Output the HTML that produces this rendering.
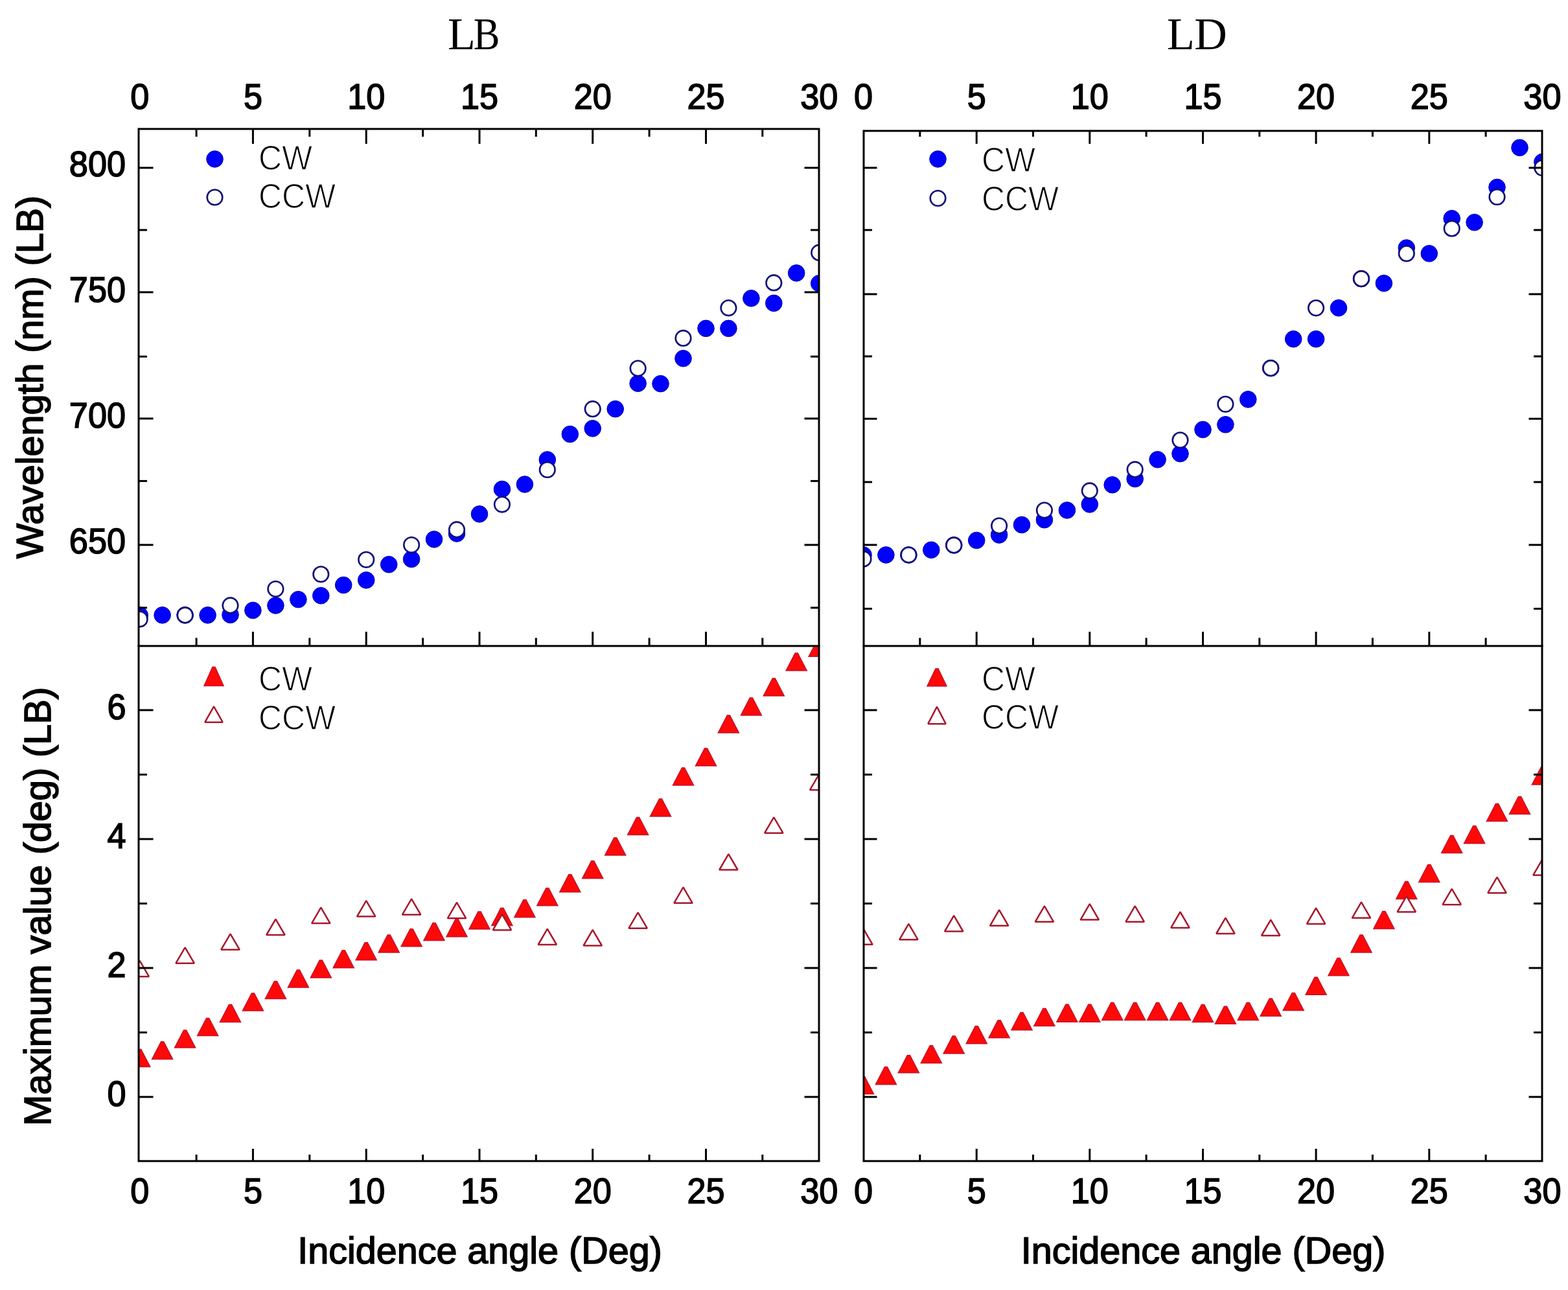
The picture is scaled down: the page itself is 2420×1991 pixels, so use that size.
<!DOCTYPE html><html><head><meta charset="utf-8"><title>LB LD plots</title>
<style>html,body{margin:0;padding:0;background:#fff;overflow:hidden;}svg{display:block;}.sb{font-family:"Liberation Sans",Arial,sans-serif;font-weight:bold;}.sr{font-family:"Liberation Sans",Arial,sans-serif;stroke:#fff;stroke-width:1.3px;}.se{font-family:"Liberation Serif","Times New Roman",serif;}.sk{font-family:"Liberation Sans",Arial,sans-serif;stroke:#000;stroke-width:1.6px;}</style></head><body>
<svg width="2420" height="1991" viewBox="0 0 2420 1991">
<rect width="2420" height="1991" fill="#fff"/>
<defs><clipPath id="cTL"><rect x="214" y="199" width="1050" height="798"/></clipPath><clipPath id="cTR"><rect x="1333" y="202" width="1047" height="795"/></clipPath><clipPath id="cBL"><rect x="214" y="997" width="1050" height="795"/></clipPath><clipPath id="cBR"><rect x="1333" y="997" width="1047" height="795"/></clipPath></defs>
<g clip-path="url(#cTL)">
<circle cx="215.7" cy="949.5" r="12.8" fill="#0000ff" stroke="#0000a8" stroke-width="1"/>
<circle cx="250.6" cy="949.4" r="12.8" fill="#0000ff" stroke="#0000a8" stroke-width="1"/>
<circle cx="285.6" cy="949.4" r="12.8" fill="#0000ff" stroke="#0000a8" stroke-width="1"/>
<circle cx="320.6" cy="949.4" r="12.8" fill="#0000ff" stroke="#0000a8" stroke-width="1"/>
<circle cx="355.5" cy="949" r="12.8" fill="#0000ff" stroke="#0000a8" stroke-width="1"/>
<circle cx="390.4" cy="942" r="12.8" fill="#0000ff" stroke="#0000a8" stroke-width="1"/>
<circle cx="425.4" cy="934.5" r="12.8" fill="#0000ff" stroke="#0000a8" stroke-width="1"/>
<circle cx="460.4" cy="925.2" r="12.8" fill="#0000ff" stroke="#0000a8" stroke-width="1"/>
<circle cx="495.3" cy="919.3" r="12.8" fill="#0000ff" stroke="#0000a8" stroke-width="1"/>
<circle cx="530.2" cy="903" r="12.8" fill="#0000ff" stroke="#0000a8" stroke-width="1"/>
<circle cx="565.2" cy="895.4" r="12.8" fill="#0000ff" stroke="#0000a8" stroke-width="1"/>
<circle cx="600.2" cy="871.2" r="12.8" fill="#0000ff" stroke="#0000a8" stroke-width="1"/>
<circle cx="635.1" cy="863" r="12.8" fill="#0000ff" stroke="#0000a8" stroke-width="1"/>
<circle cx="670" cy="832.4" r="12.8" fill="#0000ff" stroke="#0000a8" stroke-width="1"/>
<circle cx="705" cy="823.5" r="12.8" fill="#0000ff" stroke="#0000a8" stroke-width="1"/>
<circle cx="740" cy="793.4" r="12.8" fill="#0000ff" stroke="#0000a8" stroke-width="1"/>
<circle cx="774.9" cy="755" r="12.8" fill="#0000ff" stroke="#0000a8" stroke-width="1"/>
<circle cx="809.9" cy="747.5" r="12.8" fill="#0000ff" stroke="#0000a8" stroke-width="1"/>
<circle cx="844.8" cy="709.5" r="12.8" fill="#0000ff" stroke="#0000a8" stroke-width="1"/>
<circle cx="879.8" cy="670.1" r="12.8" fill="#0000ff" stroke="#0000a8" stroke-width="1"/>
<circle cx="914.7" cy="661.3" r="12.8" fill="#0000ff" stroke="#0000a8" stroke-width="1"/>
<circle cx="949.7" cy="631.2" r="12.8" fill="#0000ff" stroke="#0000a8" stroke-width="1"/>
<circle cx="984.6" cy="591.8" r="12.8" fill="#0000ff" stroke="#0000a8" stroke-width="1"/>
<circle cx="1019.5" cy="592.2" r="12.8" fill="#0000ff" stroke="#0000a8" stroke-width="1"/>
<circle cx="1054.5" cy="553.2" r="12.8" fill="#0000ff" stroke="#0000a8" stroke-width="1"/>
<circle cx="1089.5" cy="506.9" r="12.8" fill="#0000ff" stroke="#0000a8" stroke-width="1"/>
<circle cx="1124.4" cy="506.9" r="12.8" fill="#0000ff" stroke="#0000a8" stroke-width="1"/>
<circle cx="1159.4" cy="460.4" r="12.8" fill="#0000ff" stroke="#0000a8" stroke-width="1"/>
<circle cx="1194.3" cy="467.9" r="12.8" fill="#0000ff" stroke="#0000a8" stroke-width="1"/>
<circle cx="1229.2" cy="421.4" r="12.8" fill="#0000ff" stroke="#0000a8" stroke-width="1"/>
<circle cx="1264.2" cy="437.4" r="12.8" fill="#0000ff" stroke="#0000a8" stroke-width="1"/>
<circle cx="215.7" cy="955.5" r="11.8" fill="#fff" stroke="#10107a" stroke-width="2.6"/>
<circle cx="285.6" cy="949.4" r="11.8" fill="#fff" stroke="#10107a" stroke-width="2.6"/>
<circle cx="355.5" cy="934.4" r="11.8" fill="#fff" stroke="#10107a" stroke-width="2.6"/>
<circle cx="425.4" cy="909" r="11.8" fill="#fff" stroke="#10107a" stroke-width="2.6"/>
<circle cx="495.3" cy="886.3" r="11.8" fill="#fff" stroke="#10107a" stroke-width="2.6"/>
<circle cx="565.2" cy="863.8" r="11.8" fill="#fff" stroke="#10107a" stroke-width="2.6"/>
<circle cx="635.1" cy="841" r="11.8" fill="#fff" stroke="#10107a" stroke-width="2.6"/>
<circle cx="705" cy="817.4" r="11.8" fill="#fff" stroke="#10107a" stroke-width="2.6"/>
<circle cx="774.9" cy="778.6" r="11.8" fill="#fff" stroke="#10107a" stroke-width="2.6"/>
<circle cx="844.8" cy="725" r="11.8" fill="#fff" stroke="#10107a" stroke-width="2.6"/>
<circle cx="914.7" cy="631.2" r="11.8" fill="#fff" stroke="#10107a" stroke-width="2.6"/>
<circle cx="984.6" cy="568.6" r="11.8" fill="#fff" stroke="#10107a" stroke-width="2.6"/>
<circle cx="1054.5" cy="521.9" r="11.8" fill="#fff" stroke="#10107a" stroke-width="2.6"/>
<circle cx="1124.4" cy="475.3" r="11.8" fill="#fff" stroke="#10107a" stroke-width="2.6"/>
<circle cx="1194.3" cy="436.4" r="11.8" fill="#fff" stroke="#10107a" stroke-width="2.6"/>
<circle cx="1264.2" cy="389.9" r="11.8" fill="#fff" stroke="#10107a" stroke-width="2.6"/>
</g>
<g clip-path="url(#cTR)">
<circle cx="1332.5" cy="856.6" r="12.8" fill="#0000ff" stroke="#0000a8" stroke-width="1"/>
<circle cx="1367.4" cy="856.5" r="12.8" fill="#0000ff" stroke="#0000a8" stroke-width="1"/>
<circle cx="1402.4" cy="856.5" r="12.8" fill="#0000ff" stroke="#0000a8" stroke-width="1"/>
<circle cx="1437.3" cy="848.8" r="12.8" fill="#0000ff" stroke="#0000a8" stroke-width="1"/>
<circle cx="1472.2" cy="841.4" r="12.8" fill="#0000ff" stroke="#0000a8" stroke-width="1"/>
<circle cx="1507.2" cy="834" r="12.8" fill="#0000ff" stroke="#0000a8" stroke-width="1"/>
<circle cx="1542.1" cy="825.6" r="12.8" fill="#0000ff" stroke="#0000a8" stroke-width="1"/>
<circle cx="1577" cy="810" r="12.8" fill="#0000ff" stroke="#0000a8" stroke-width="1"/>
<circle cx="1611.9" cy="802.3" r="12.8" fill="#0000ff" stroke="#0000a8" stroke-width="1"/>
<circle cx="1646.9" cy="787.5" r="12.8" fill="#0000ff" stroke="#0000a8" stroke-width="1"/>
<circle cx="1681.8" cy="778.4" r="12.8" fill="#0000ff" stroke="#0000a8" stroke-width="1"/>
<circle cx="1716.7" cy="748.3" r="12.8" fill="#0000ff" stroke="#0000a8" stroke-width="1"/>
<circle cx="1751.7" cy="739.1" r="12.8" fill="#0000ff" stroke="#0000a8" stroke-width="1"/>
<circle cx="1786.6" cy="709.3" r="12.8" fill="#0000ff" stroke="#0000a8" stroke-width="1"/>
<circle cx="1821.5" cy="700.2" r="12.8" fill="#0000ff" stroke="#0000a8" stroke-width="1"/>
<circle cx="1856.5" cy="663" r="12.8" fill="#0000ff" stroke="#0000a8" stroke-width="1"/>
<circle cx="1891.4" cy="655.3" r="12.8" fill="#0000ff" stroke="#0000a8" stroke-width="1"/>
<circle cx="1926.3" cy="616.4" r="12.8" fill="#0000ff" stroke="#0000a8" stroke-width="1"/>
<circle cx="1961.2" cy="568.2" r="12.8" fill="#0000ff" stroke="#0000a8" stroke-width="1"/>
<circle cx="1996.2" cy="523.3" r="12.8" fill="#0000ff" stroke="#0000a8" stroke-width="1"/>
<circle cx="2031.1" cy="523.3" r="12.8" fill="#0000ff" stroke="#0000a8" stroke-width="1"/>
<circle cx="2066" cy="475.3" r="12.8" fill="#0000ff" stroke="#0000a8" stroke-width="1"/>
<circle cx="2101" cy="430.2" r="12.8" fill="#0000ff" stroke="#0000a8" stroke-width="1"/>
<circle cx="2135.9" cy="437.2" r="12.8" fill="#0000ff" stroke="#0000a8" stroke-width="1"/>
<circle cx="2170.8" cy="382.6" r="12.8" fill="#0000ff" stroke="#0000a8" stroke-width="1"/>
<circle cx="2205.8" cy="391.3" r="12.8" fill="#0000ff" stroke="#0000a8" stroke-width="1"/>
<circle cx="2240.7" cy="337.2" r="12.8" fill="#0000ff" stroke="#0000a8" stroke-width="1"/>
<circle cx="2275.6" cy="343.2" r="12.8" fill="#0000ff" stroke="#0000a8" stroke-width="1"/>
<circle cx="2310.5" cy="289" r="12.8" fill="#0000ff" stroke="#0000a8" stroke-width="1"/>
<circle cx="2345.5" cy="227.9" r="12.8" fill="#0000ff" stroke="#0000a8" stroke-width="1"/>
<circle cx="2380.4" cy="250" r="12.8" fill="#0000ff" stroke="#0000a8" stroke-width="1"/>
<circle cx="1332.5" cy="862.7" r="11.8" fill="#fff" stroke="#10107a" stroke-width="2.6"/>
<circle cx="1402.4" cy="856.5" r="11.8" fill="#fff" stroke="#10107a" stroke-width="2.6"/>
<circle cx="1472.2" cy="841.4" r="11.8" fill="#fff" stroke="#10107a" stroke-width="2.6"/>
<circle cx="1542.1" cy="811.5" r="11.8" fill="#fff" stroke="#10107a" stroke-width="2.6"/>
<circle cx="1611.9" cy="787.6" r="11.8" fill="#fff" stroke="#10107a" stroke-width="2.6"/>
<circle cx="1681.8" cy="757.4" r="11.8" fill="#fff" stroke="#10107a" stroke-width="2.6"/>
<circle cx="1751.7" cy="724.7" r="11.8" fill="#fff" stroke="#10107a" stroke-width="2.6"/>
<circle cx="1821.5" cy="679.3" r="11.8" fill="#fff" stroke="#10107a" stroke-width="2.6"/>
<circle cx="1891.4" cy="623.8" r="11.8" fill="#fff" stroke="#10107a" stroke-width="2.6"/>
<circle cx="1961.2" cy="568.2" r="11.8" fill="#fff" stroke="#10107a" stroke-width="2.6"/>
<circle cx="2031.1" cy="475.3" r="11.8" fill="#fff" stroke="#10107a" stroke-width="2.6"/>
<circle cx="2101" cy="430.2" r="11.8" fill="#fff" stroke="#10107a" stroke-width="2.6"/>
<circle cx="2170.8" cy="391.3" r="11.8" fill="#fff" stroke="#10107a" stroke-width="2.6"/>
<circle cx="2240.7" cy="352.7" r="11.8" fill="#fff" stroke="#10107a" stroke-width="2.6"/>
<circle cx="2310.5" cy="304" r="11.8" fill="#fff" stroke="#10107a" stroke-width="2.6"/>
<circle cx="2380.4" cy="259" r="11.8" fill="#fff" stroke="#10107a" stroke-width="2.6"/>
</g>
<g clip-path="url(#cBL)">
<polygon points="213.7,1619.5 217.7,1619.5 231.7,1646.5 199.7,1646.5" fill="#ff0808" stroke="#c81028" stroke-width="1.5"/>
<polygon points="248.6,1607.8 252.6,1607.8 266.6,1634.8 234.6,1634.8" fill="#ff0808" stroke="#c81028" stroke-width="1.5"/>
<polygon points="283.6,1590 287.6,1590 301.6,1617 269.6,1617" fill="#ff0808" stroke="#c81028" stroke-width="1.5"/>
<polygon points="318.6,1571.5 322.6,1571.5 336.6,1598.5 304.6,1598.5" fill="#ff0808" stroke="#c81028" stroke-width="1.5"/>
<polygon points="353.5,1550.5 357.5,1550.5 371.5,1577.5 339.5,1577.5" fill="#ff0808" stroke="#c81028" stroke-width="1.5"/>
<polygon points="388.4,1533 392.4,1533 406.4,1560 374.4,1560" fill="#ff0808" stroke="#c81028" stroke-width="1.5"/>
<polygon points="423.4,1514.5 427.4,1514.5 441.4,1541.5 409.4,1541.5" fill="#ff0808" stroke="#c81028" stroke-width="1.5"/>
<polygon points="458.4,1496.9 462.4,1496.9 476.4,1523.9 444.4,1523.9" fill="#ff0808" stroke="#c81028" stroke-width="1.5"/>
<polygon points="493.3,1481.9 497.3,1481.9 511.3,1508.9 479.3,1508.9" fill="#ff0808" stroke="#c81028" stroke-width="1.5"/>
<polygon points="528.2,1466.8 532.2,1466.8 546.2,1493.8 514.2,1493.8" fill="#ff0808" stroke="#c81028" stroke-width="1.5"/>
<polygon points="563.2,1454.8 567.2,1454.8 581.2,1481.8 549.2,1481.8" fill="#ff0808" stroke="#c81028" stroke-width="1.5"/>
<polygon points="598.2,1442.9 602.2,1442.9 616.2,1469.9 584.2,1469.9" fill="#ff0808" stroke="#c81028" stroke-width="1.5"/>
<polygon points="633.1,1433.8 637.1,1433.8 651.1,1460.8 619.1,1460.8" fill="#ff0808" stroke="#c81028" stroke-width="1.5"/>
<polygon points="668,1424.6 672,1424.6 686,1451.6 654,1451.6" fill="#ff0808" stroke="#c81028" stroke-width="1.5"/>
<polygon points="703,1418.8 707,1418.8 721,1445.8 689,1445.8" fill="#ff0808" stroke="#c81028" stroke-width="1.5"/>
<polygon points="738,1407 742,1407 756,1434 724,1434" fill="#ff0808" stroke="#c81028" stroke-width="1.5"/>
<polygon points="772.9,1401.5 776.9,1401.5 790.9,1428.5 758.9,1428.5" fill="#ff0808" stroke="#c81028" stroke-width="1.5"/>
<polygon points="807.9,1388.8 811.9,1388.8 825.9,1415.8 793.9,1415.8" fill="#ff0808" stroke="#c81028" stroke-width="1.5"/>
<polygon points="842.8,1370.7 846.8,1370.7 860.8,1397.7 828.8,1397.7" fill="#ff0808" stroke="#c81028" stroke-width="1.5"/>
<polygon points="877.8,1349.8 881.8,1349.8 895.8,1376.8 863.8,1376.8" fill="#ff0808" stroke="#c81028" stroke-width="1.5"/>
<polygon points="912.7,1328.8 916.7,1328.8 930.7,1355.8 898.7,1355.8" fill="#ff0808" stroke="#c81028" stroke-width="1.5"/>
<polygon points="947.7,1293 951.7,1293 965.7,1320 933.7,1320" fill="#ff0808" stroke="#c81028" stroke-width="1.5"/>
<polygon points="982.6,1261.5 986.6,1261.5 1000.6,1288.5 968.6,1288.5" fill="#ff0808" stroke="#c81028" stroke-width="1.5"/>
<polygon points="1017.5,1232.9 1021.5,1232.9 1035.5,1259.9 1003.5,1259.9" fill="#ff0808" stroke="#c81028" stroke-width="1.5"/>
<polygon points="1052.5,1184.9 1056.5,1184.9 1070.5,1211.9 1038.5,1211.9" fill="#ff0808" stroke="#c81028" stroke-width="1.5"/>
<polygon points="1087.5,1155.1 1091.5,1155.1 1105.5,1182.1 1073.5,1182.1" fill="#ff0808" stroke="#c81028" stroke-width="1.5"/>
<polygon points="1122.4,1104.1 1126.4,1104.1 1140.4,1131.1 1108.4,1131.1" fill="#ff0808" stroke="#c81028" stroke-width="1.5"/>
<polygon points="1157.4,1077 1161.4,1077 1175.4,1104 1143.4,1104" fill="#ff0808" stroke="#c81028" stroke-width="1.5"/>
<polygon points="1192.3,1047 1196.3,1047 1210.3,1074 1178.3,1074" fill="#ff0808" stroke="#c81028" stroke-width="1.5"/>
<polygon points="1227.2,1008 1231.2,1008 1245.2,1035 1213.2,1035" fill="#ff0808" stroke="#c81028" stroke-width="1.5"/>
<polygon points="1262.2,986.2 1266.2,986.2 1280.2,1013.2 1248.2,1013.2" fill="#ff0808" stroke="#c81028" stroke-width="1.5"/>
<polygon points="215.7,1482.8 229.9,1507.2 201.5,1507.2" fill="#fff" stroke="#a8182c" stroke-width="2.5" stroke-linejoin="bevel"/>
<polygon points="285.6,1462.3 299.8,1486.7 271.4,1486.7" fill="#fff" stroke="#a8182c" stroke-width="2.5" stroke-linejoin="bevel"/>
<polygon points="355.5,1441.3 369.7,1465.7 341.3,1465.7" fill="#fff" stroke="#a8182c" stroke-width="2.5" stroke-linejoin="bevel"/>
<polygon points="425.4,1418.6 439.6,1443 411.2,1443" fill="#fff" stroke="#a8182c" stroke-width="2.5" stroke-linejoin="bevel"/>
<polygon points="495.3,1400.7 509.5,1425.1 481.1,1425.1" fill="#fff" stroke="#a8182c" stroke-width="2.5" stroke-linejoin="bevel"/>
<polygon points="565.2,1390.2 579.4,1414.6 551,1414.6" fill="#fff" stroke="#a8182c" stroke-width="2.5" stroke-linejoin="bevel"/>
<polygon points="635.1,1387.3 649.3,1411.7 620.9,1411.7" fill="#fff" stroke="#a8182c" stroke-width="2.5" stroke-linejoin="bevel"/>
<polygon points="705,1392.9 719.2,1417.3 690.8,1417.3" fill="#fff" stroke="#a8182c" stroke-width="2.5" stroke-linejoin="bevel"/>
<polygon points="774.9,1411 789.1,1435.4 760.7,1435.4" fill="#fff" stroke="#a8182c" stroke-width="2.5" stroke-linejoin="bevel"/>
<polygon points="844.8,1433.6 859,1458 830.6,1458" fill="#fff" stroke="#a8182c" stroke-width="2.5" stroke-linejoin="bevel"/>
<polygon points="914.7,1435.1 928.9,1459.5 900.5,1459.5" fill="#fff" stroke="#a8182c" stroke-width="2.5" stroke-linejoin="bevel"/>
<polygon points="984.6,1408.3 998.8,1432.7 970.4,1432.7" fill="#fff" stroke="#a8182c" stroke-width="2.5" stroke-linejoin="bevel"/>
<polygon points="1054.5,1369.4 1068.7,1393.8 1040.3,1393.8" fill="#fff" stroke="#a8182c" stroke-width="2.5" stroke-linejoin="bevel"/>
<polygon points="1124.4,1318.1 1138.6,1342.5 1110.2,1342.5" fill="#fff" stroke="#a8182c" stroke-width="2.5" stroke-linejoin="bevel"/>
<polygon points="1194.3,1261.3 1208.5,1285.7 1180.1,1285.7" fill="#fff" stroke="#a8182c" stroke-width="2.5" stroke-linejoin="bevel"/>
<polygon points="1264.2,1194.8 1278.4,1219.2 1250,1219.2" fill="#fff" stroke="#a8182c" stroke-width="2.5" stroke-linejoin="bevel"/>
</g>
<g clip-path="url(#cBR)">
<polygon points="1330.5,1661.5 1334.5,1661.5 1348.5,1688.5 1316.5,1688.5" fill="#ff0808" stroke="#c81028" stroke-width="1.5"/>
<polygon points="1365.4,1646.7 1369.4,1646.7 1383.4,1673.7 1351.4,1673.7" fill="#ff0808" stroke="#c81028" stroke-width="1.5"/>
<polygon points="1400.4,1628.8 1404.4,1628.8 1418.4,1655.8 1386.4,1655.8" fill="#ff0808" stroke="#c81028" stroke-width="1.5"/>
<polygon points="1435.3,1613.7 1439.3,1613.7 1453.3,1640.7 1421.3,1640.7" fill="#ff0808" stroke="#c81028" stroke-width="1.5"/>
<polygon points="1470.2,1598.9 1474.2,1598.9 1488.2,1625.9 1456.2,1625.9" fill="#ff0808" stroke="#c81028" stroke-width="1.5"/>
<polygon points="1505.2,1583.8 1509.2,1583.8 1523.2,1610.8 1491.2,1610.8" fill="#ff0808" stroke="#c81028" stroke-width="1.5"/>
<polygon points="1540.1,1574.8 1544.1,1574.8 1558.1,1601.8 1526.1,1601.8" fill="#ff0808" stroke="#c81028" stroke-width="1.5"/>
<polygon points="1575,1562.7 1579,1562.7 1593,1589.7 1561,1589.7" fill="#ff0808" stroke="#c81028" stroke-width="1.5"/>
<polygon points="1609.9,1556.5 1613.9,1556.5 1627.9,1583.5 1595.9,1583.5" fill="#ff0808" stroke="#c81028" stroke-width="1.5"/>
<polygon points="1644.9,1550.2 1648.9,1550.2 1662.9,1577.2 1630.9,1577.2" fill="#ff0808" stroke="#c81028" stroke-width="1.5"/>
<polygon points="1679.8,1550.2 1683.8,1550.2 1697.8,1577.2 1665.8,1577.2" fill="#ff0808" stroke="#c81028" stroke-width="1.5"/>
<polygon points="1714.7,1547.4 1718.7,1547.4 1732.7,1574.4 1700.7,1574.4" fill="#ff0808" stroke="#c81028" stroke-width="1.5"/>
<polygon points="1749.7,1547.4 1753.7,1547.4 1767.7,1574.4 1735.7,1574.4" fill="#ff0808" stroke="#c81028" stroke-width="1.5"/>
<polygon points="1784.6,1547.6 1788.6,1547.6 1802.6,1574.6 1770.6,1574.6" fill="#ff0808" stroke="#c81028" stroke-width="1.5"/>
<polygon points="1819.5,1547.6 1823.5,1547.6 1837.5,1574.6 1805.5,1574.6" fill="#ff0808" stroke="#c81028" stroke-width="1.5"/>
<polygon points="1854.5,1550.4 1858.5,1550.4 1872.5,1577.4 1840.5,1577.4" fill="#ff0808" stroke="#c81028" stroke-width="1.5"/>
<polygon points="1889.4,1553.3 1893.4,1553.3 1907.4,1580.3 1875.4,1580.3" fill="#ff0808" stroke="#c81028" stroke-width="1.5"/>
<polygon points="1924.3,1547.6 1928.3,1547.6 1942.3,1574.6 1910.3,1574.6" fill="#ff0808" stroke="#c81028" stroke-width="1.5"/>
<polygon points="1959.2,1541.3 1963.2,1541.3 1977.2,1568.3 1945.2,1568.3" fill="#ff0808" stroke="#c81028" stroke-width="1.5"/>
<polygon points="1994.2,1532.5 1998.2,1532.5 2012.2,1559.5 1980.2,1559.5" fill="#ff0808" stroke="#c81028" stroke-width="1.5"/>
<polygon points="2029.1,1508.3 2033.1,1508.3 2047.1,1535.3 2015.1,1535.3" fill="#ff0808" stroke="#c81028" stroke-width="1.5"/>
<polygon points="2064,1478.7 2068,1478.7 2082,1505.7 2050,1505.7" fill="#ff0808" stroke="#c81028" stroke-width="1.5"/>
<polygon points="2099,1442.9 2103,1442.9 2117,1469.9 2085,1469.9" fill="#ff0808" stroke="#c81028" stroke-width="1.5"/>
<polygon points="2133.9,1406.5 2137.9,1406.5 2151.9,1433.5 2119.9,1433.5" fill="#ff0808" stroke="#c81028" stroke-width="1.5"/>
<polygon points="2168.8,1360.4 2172.8,1360.4 2186.8,1387.4 2154.8,1387.4" fill="#ff0808" stroke="#c81028" stroke-width="1.5"/>
<polygon points="2203.8,1334.4 2207.8,1334.4 2221.8,1361.4 2189.8,1361.4" fill="#ff0808" stroke="#c81028" stroke-width="1.5"/>
<polygon points="2238.7,1289.6 2242.7,1289.6 2256.7,1316.6 2224.7,1316.6" fill="#ff0808" stroke="#c81028" stroke-width="1.5"/>
<polygon points="2273.6,1274.8 2277.6,1274.8 2291.6,1301.8 2259.6,1301.8" fill="#ff0808" stroke="#c81028" stroke-width="1.5"/>
<polygon points="2308.5,1240.5 2312.5,1240.5 2326.5,1267.5 2294.5,1267.5" fill="#ff0808" stroke="#c81028" stroke-width="1.5"/>
<polygon points="2343.5,1229.5 2347.5,1229.5 2361.5,1256.5 2329.5,1256.5" fill="#ff0808" stroke="#c81028" stroke-width="1.5"/>
<polygon points="2378.4,1184.1 2382.4,1184.1 2396.4,1211.1 2364.4,1211.1" fill="#ff0808" stroke="#c81028" stroke-width="1.5"/>
<polygon points="1332.5,1433.4 1346.7,1457.8 1318.3,1457.8" fill="#fff" stroke="#a8182c" stroke-width="2.5" stroke-linejoin="bevel"/>
<polygon points="1402.4,1425.8 1416.6,1450.2 1388.2,1450.2" fill="#fff" stroke="#a8182c" stroke-width="2.5" stroke-linejoin="bevel"/>
<polygon points="1472.2,1413.1 1486.4,1437.5 1458,1437.5" fill="#fff" stroke="#a8182c" stroke-width="2.5" stroke-linejoin="bevel"/>
<polygon points="1542.1,1404.4 1556.3,1428.8 1527.9,1428.8" fill="#fff" stroke="#a8182c" stroke-width="2.5" stroke-linejoin="bevel"/>
<polygon points="1611.9,1398.4 1626.1,1422.8 1597.7,1422.8" fill="#fff" stroke="#a8182c" stroke-width="2.5" stroke-linejoin="bevel"/>
<polygon points="1681.8,1395.2 1696,1419.6 1667.6,1419.6" fill="#fff" stroke="#a8182c" stroke-width="2.5" stroke-linejoin="bevel"/>
<polygon points="1751.7,1398.3 1765.9,1422.7 1737.5,1422.7" fill="#fff" stroke="#a8182c" stroke-width="2.5" stroke-linejoin="bevel"/>
<polygon points="1821.5,1407.5 1835.7,1431.9 1807.3,1431.9" fill="#fff" stroke="#a8182c" stroke-width="2.5" stroke-linejoin="bevel"/>
<polygon points="1891.4,1416.6 1905.6,1441 1877.2,1441" fill="#fff" stroke="#a8182c" stroke-width="2.5" stroke-linejoin="bevel"/>
<polygon points="1961.2,1419.6 1975.4,1444 1947,1444" fill="#fff" stroke="#a8182c" stroke-width="2.5" stroke-linejoin="bevel"/>
<polygon points="2031.1,1401.5 2045.3,1425.9 2016.9,1425.9" fill="#fff" stroke="#a8182c" stroke-width="2.5" stroke-linejoin="bevel"/>
<polygon points="2101,1392.4 2115.2,1416.8 2086.8,1416.8" fill="#fff" stroke="#a8182c" stroke-width="2.5" stroke-linejoin="bevel"/>
<polygon points="2170.8,1383.1 2185,1407.5 2156.6,1407.5" fill="#fff" stroke="#a8182c" stroke-width="2.5" stroke-linejoin="bevel"/>
<polygon points="2240.7,1371.8 2254.9,1396.2 2226.5,1396.2" fill="#fff" stroke="#a8182c" stroke-width="2.5" stroke-linejoin="bevel"/>
<polygon points="2310.5,1353.8 2324.7,1378.2 2296.3,1378.2" fill="#fff" stroke="#a8182c" stroke-width="2.5" stroke-linejoin="bevel"/>
<polygon points="2380.4,1326.4 2394.6,1350.8 2366.2,1350.8" fill="#fff" stroke="#a8182c" stroke-width="2.5" stroke-linejoin="bevel"/>
</g>
<circle cx="331.5" cy="245.5" r="12.8" fill="#0000ff" stroke="#0000a8" stroke-width="1"/>
<circle cx="331.5" cy="304.5" r="11.8" fill="#fff" stroke="#10107a" stroke-width="2.6"/>
<circle cx="1447.5" cy="245.5" r="12.8" fill="#0000ff" stroke="#0000a8" stroke-width="1"/>
<circle cx="1447.5" cy="306" r="11.8" fill="#fff" stroke="#10107a" stroke-width="2.6"/>
<polygon points="328,1029.5 332,1029.5 345,1058.5 315,1058.5" fill="#ff0808" stroke="#c81028" stroke-width="1.5"/>
<polygon points="330,1090.3 343.7,1114.7 316.3,1114.7" fill="#fff" stroke="#a8182c" stroke-width="2.5" stroke-linejoin="bevel"/>
<polygon points="1444,1032 1448,1032 1461,1059 1431,1059" fill="#ff0808" stroke="#c81028" stroke-width="1.5"/>
<polygon points="1446,1090.8 1459.7,1117.2 1432.3,1117.2" fill="#fff" stroke="#a8182c" stroke-width="2.5" stroke-linejoin="bevel"/>
<rect x="214" y="199" width="1050" height="1593" fill="none" stroke="#000" stroke-width="3"/>
<line x1="212.5" y1="997" x2="1265.5" y2="997" stroke="#000" stroke-width="3"/>
<line x1="303.1" y1="199" x2="303.1" y2="211" stroke="#000" stroke-width="3"/>
<line x1="303.1" y1="997" x2="303.1" y2="984.5" stroke="#000" stroke-width="3"/>
<line x1="303.1" y1="1792" x2="303.1" y2="1782" stroke="#000" stroke-width="3"/>
<line x1="390.4" y1="199" x2="390.4" y2="222" stroke="#000" stroke-width="3"/>
<line x1="390.4" y1="997" x2="390.4" y2="975" stroke="#000" stroke-width="3"/>
<line x1="390.4" y1="1792" x2="390.4" y2="1773" stroke="#000" stroke-width="3"/>
<line x1="477.8" y1="199" x2="477.8" y2="211" stroke="#000" stroke-width="3"/>
<line x1="477.8" y1="997" x2="477.8" y2="984.5" stroke="#000" stroke-width="3"/>
<line x1="477.8" y1="1792" x2="477.8" y2="1782" stroke="#000" stroke-width="3"/>
<line x1="565.2" y1="199" x2="565.2" y2="222" stroke="#000" stroke-width="3"/>
<line x1="565.2" y1="997" x2="565.2" y2="975" stroke="#000" stroke-width="3"/>
<line x1="565.2" y1="1792" x2="565.2" y2="1773" stroke="#000" stroke-width="3"/>
<line x1="652.6" y1="199" x2="652.6" y2="211" stroke="#000" stroke-width="3"/>
<line x1="652.6" y1="997" x2="652.6" y2="984.5" stroke="#000" stroke-width="3"/>
<line x1="652.6" y1="1792" x2="652.6" y2="1782" stroke="#000" stroke-width="3"/>
<line x1="740" y1="199" x2="740" y2="222" stroke="#000" stroke-width="3"/>
<line x1="740" y1="997" x2="740" y2="975" stroke="#000" stroke-width="3"/>
<line x1="740" y1="1792" x2="740" y2="1773" stroke="#000" stroke-width="3"/>
<line x1="827.3" y1="199" x2="827.3" y2="211" stroke="#000" stroke-width="3"/>
<line x1="827.3" y1="997" x2="827.3" y2="984.5" stroke="#000" stroke-width="3"/>
<line x1="827.3" y1="1792" x2="827.3" y2="1782" stroke="#000" stroke-width="3"/>
<line x1="914.7" y1="199" x2="914.7" y2="222" stroke="#000" stroke-width="3"/>
<line x1="914.7" y1="997" x2="914.7" y2="975" stroke="#000" stroke-width="3"/>
<line x1="914.7" y1="1792" x2="914.7" y2="1773" stroke="#000" stroke-width="3"/>
<line x1="1002.1" y1="199" x2="1002.1" y2="211" stroke="#000" stroke-width="3"/>
<line x1="1002.1" y1="997" x2="1002.1" y2="984.5" stroke="#000" stroke-width="3"/>
<line x1="1002.1" y1="1792" x2="1002.1" y2="1782" stroke="#000" stroke-width="3"/>
<line x1="1089.5" y1="199" x2="1089.5" y2="222" stroke="#000" stroke-width="3"/>
<line x1="1089.5" y1="997" x2="1089.5" y2="975" stroke="#000" stroke-width="3"/>
<line x1="1089.5" y1="1792" x2="1089.5" y2="1773" stroke="#000" stroke-width="3"/>
<line x1="1176.8" y1="199" x2="1176.8" y2="211" stroke="#000" stroke-width="3"/>
<line x1="1176.8" y1="997" x2="1176.8" y2="984.5" stroke="#000" stroke-width="3"/>
<line x1="1176.8" y1="1792" x2="1176.8" y2="1782" stroke="#000" stroke-width="3"/>
<line x1="214" y1="259" x2="236.5" y2="259" stroke="#000" stroke-width="3"/>
<line x1="1264" y1="259" x2="1241.5" y2="259" stroke="#000" stroke-width="3"/>
<line x1="214" y1="355" x2="227" y2="355" stroke="#000" stroke-width="3"/>
<line x1="1264" y1="355" x2="1251" y2="355" stroke="#000" stroke-width="3"/>
<line x1="214" y1="451" x2="236.5" y2="451" stroke="#000" stroke-width="3"/>
<line x1="1264" y1="451" x2="1241.5" y2="451" stroke="#000" stroke-width="3"/>
<line x1="214" y1="550.3" x2="227" y2="550.3" stroke="#000" stroke-width="3"/>
<line x1="1264" y1="550.3" x2="1251" y2="550.3" stroke="#000" stroke-width="3"/>
<line x1="214" y1="646" x2="236.5" y2="646" stroke="#000" stroke-width="3"/>
<line x1="1264" y1="646" x2="1241.5" y2="646" stroke="#000" stroke-width="3"/>
<line x1="214" y1="742.4" x2="227" y2="742.4" stroke="#000" stroke-width="3"/>
<line x1="1264" y1="742.4" x2="1251" y2="742.4" stroke="#000" stroke-width="3"/>
<line x1="214" y1="841" x2="236.5" y2="841" stroke="#000" stroke-width="3"/>
<line x1="1264" y1="841" x2="1241.5" y2="841" stroke="#000" stroke-width="3"/>
<line x1="214" y1="938" x2="227" y2="938" stroke="#000" stroke-width="3"/>
<line x1="1264" y1="938" x2="1251" y2="938" stroke="#000" stroke-width="3"/>
<line x1="214" y1="1693" x2="236.5" y2="1693" stroke="#000" stroke-width="3"/>
<line x1="1264" y1="1693" x2="1241.5" y2="1693" stroke="#000" stroke-width="3"/>
<line x1="214" y1="1593.5" x2="227" y2="1593.5" stroke="#000" stroke-width="3"/>
<line x1="1264" y1="1593.5" x2="1251" y2="1593.5" stroke="#000" stroke-width="3"/>
<line x1="214" y1="1494" x2="236.5" y2="1494" stroke="#000" stroke-width="3"/>
<line x1="1264" y1="1494" x2="1241.5" y2="1494" stroke="#000" stroke-width="3"/>
<line x1="214" y1="1394.5" x2="227" y2="1394.5" stroke="#000" stroke-width="3"/>
<line x1="1264" y1="1394.5" x2="1251" y2="1394.5" stroke="#000" stroke-width="3"/>
<line x1="214" y1="1295" x2="236.5" y2="1295" stroke="#000" stroke-width="3"/>
<line x1="1264" y1="1295" x2="1241.5" y2="1295" stroke="#000" stroke-width="3"/>
<line x1="214" y1="1195.5" x2="227" y2="1195.5" stroke="#000" stroke-width="3"/>
<line x1="1264" y1="1195.5" x2="1251" y2="1195.5" stroke="#000" stroke-width="3"/>
<line x1="214" y1="1096" x2="236.5" y2="1096" stroke="#000" stroke-width="3"/>
<line x1="1264" y1="1096" x2="1241.5" y2="1096" stroke="#000" stroke-width="3"/>
<rect x="1333" y="202" width="1047" height="1590" fill="none" stroke="#000" stroke-width="3"/>
<line x1="1331.5" y1="997" x2="2381.5" y2="997" stroke="#000" stroke-width="3"/>
<line x1="1419.8" y1="202" x2="1419.8" y2="211" stroke="#000" stroke-width="3"/>
<line x1="1419.8" y1="997" x2="1419.8" y2="984.5" stroke="#000" stroke-width="3"/>
<line x1="1419.8" y1="1792" x2="1419.8" y2="1782" stroke="#000" stroke-width="3"/>
<line x1="1507.2" y1="202" x2="1507.2" y2="222" stroke="#000" stroke-width="3"/>
<line x1="1507.2" y1="997" x2="1507.2" y2="975" stroke="#000" stroke-width="3"/>
<line x1="1507.2" y1="1792" x2="1507.2" y2="1773" stroke="#000" stroke-width="3"/>
<line x1="1594.5" y1="202" x2="1594.5" y2="211" stroke="#000" stroke-width="3"/>
<line x1="1594.5" y1="997" x2="1594.5" y2="984.5" stroke="#000" stroke-width="3"/>
<line x1="1594.5" y1="1792" x2="1594.5" y2="1782" stroke="#000" stroke-width="3"/>
<line x1="1681.8" y1="202" x2="1681.8" y2="222" stroke="#000" stroke-width="3"/>
<line x1="1681.8" y1="997" x2="1681.8" y2="975" stroke="#000" stroke-width="3"/>
<line x1="1681.8" y1="1792" x2="1681.8" y2="1773" stroke="#000" stroke-width="3"/>
<line x1="1769.1" y1="202" x2="1769.1" y2="211" stroke="#000" stroke-width="3"/>
<line x1="1769.1" y1="997" x2="1769.1" y2="984.5" stroke="#000" stroke-width="3"/>
<line x1="1769.1" y1="1792" x2="1769.1" y2="1782" stroke="#000" stroke-width="3"/>
<line x1="1856.5" y1="202" x2="1856.5" y2="222" stroke="#000" stroke-width="3"/>
<line x1="1856.5" y1="997" x2="1856.5" y2="975" stroke="#000" stroke-width="3"/>
<line x1="1856.5" y1="1792" x2="1856.5" y2="1773" stroke="#000" stroke-width="3"/>
<line x1="1943.8" y1="202" x2="1943.8" y2="211" stroke="#000" stroke-width="3"/>
<line x1="1943.8" y1="997" x2="1943.8" y2="984.5" stroke="#000" stroke-width="3"/>
<line x1="1943.8" y1="1792" x2="1943.8" y2="1782" stroke="#000" stroke-width="3"/>
<line x1="2031.1" y1="202" x2="2031.1" y2="222" stroke="#000" stroke-width="3"/>
<line x1="2031.1" y1="997" x2="2031.1" y2="975" stroke="#000" stroke-width="3"/>
<line x1="2031.1" y1="1792" x2="2031.1" y2="1773" stroke="#000" stroke-width="3"/>
<line x1="2118.4" y1="202" x2="2118.4" y2="211" stroke="#000" stroke-width="3"/>
<line x1="2118.4" y1="997" x2="2118.4" y2="984.5" stroke="#000" stroke-width="3"/>
<line x1="2118.4" y1="1792" x2="2118.4" y2="1782" stroke="#000" stroke-width="3"/>
<line x1="2205.8" y1="202" x2="2205.8" y2="222" stroke="#000" stroke-width="3"/>
<line x1="2205.8" y1="997" x2="2205.8" y2="975" stroke="#000" stroke-width="3"/>
<line x1="2205.8" y1="1792" x2="2205.8" y2="1773" stroke="#000" stroke-width="3"/>
<line x1="2293.1" y1="202" x2="2293.1" y2="211" stroke="#000" stroke-width="3"/>
<line x1="2293.1" y1="997" x2="2293.1" y2="984.5" stroke="#000" stroke-width="3"/>
<line x1="2293.1" y1="1792" x2="2293.1" y2="1782" stroke="#000" stroke-width="3"/>
<line x1="1333" y1="259" x2="1353.5" y2="259" stroke="#000" stroke-width="3"/>
<line x1="2380" y1="259" x2="2359.5" y2="259" stroke="#000" stroke-width="3"/>
<line x1="1333" y1="355" x2="1346" y2="355" stroke="#000" stroke-width="3"/>
<line x1="2380" y1="355" x2="2367" y2="355" stroke="#000" stroke-width="3"/>
<line x1="1333" y1="454" x2="1353.5" y2="454" stroke="#000" stroke-width="3"/>
<line x1="2380" y1="454" x2="2359.5" y2="454" stroke="#000" stroke-width="3"/>
<line x1="1333" y1="550" x2="1346" y2="550" stroke="#000" stroke-width="3"/>
<line x1="2380" y1="550" x2="2367" y2="550" stroke="#000" stroke-width="3"/>
<line x1="1333" y1="646.3" x2="1353.5" y2="646.3" stroke="#000" stroke-width="3"/>
<line x1="2380" y1="646.3" x2="2359.5" y2="646.3" stroke="#000" stroke-width="3"/>
<line x1="1333" y1="744" x2="1346" y2="744" stroke="#000" stroke-width="3"/>
<line x1="2380" y1="744" x2="2367" y2="744" stroke="#000" stroke-width="3"/>
<line x1="1333" y1="841" x2="1353.5" y2="841" stroke="#000" stroke-width="3"/>
<line x1="2380" y1="841" x2="2359.5" y2="841" stroke="#000" stroke-width="3"/>
<line x1="1333" y1="939.5" x2="1346" y2="939.5" stroke="#000" stroke-width="3"/>
<line x1="2380" y1="939.5" x2="2367" y2="939.5" stroke="#000" stroke-width="3"/>
<line x1="1333" y1="1693" x2="1353.5" y2="1693" stroke="#000" stroke-width="3"/>
<line x1="2380" y1="1693" x2="2359.5" y2="1693" stroke="#000" stroke-width="3"/>
<line x1="1333" y1="1593.5" x2="1346" y2="1593.5" stroke="#000" stroke-width="3"/>
<line x1="2380" y1="1593.5" x2="2367" y2="1593.5" stroke="#000" stroke-width="3"/>
<line x1="1333" y1="1494" x2="1353.5" y2="1494" stroke="#000" stroke-width="3"/>
<line x1="2380" y1="1494" x2="2359.5" y2="1494" stroke="#000" stroke-width="3"/>
<line x1="1333" y1="1394.5" x2="1346" y2="1394.5" stroke="#000" stroke-width="3"/>
<line x1="2380" y1="1394.5" x2="2367" y2="1394.5" stroke="#000" stroke-width="3"/>
<line x1="1333" y1="1295" x2="1353.5" y2="1295" stroke="#000" stroke-width="3"/>
<line x1="2380" y1="1295" x2="2359.5" y2="1295" stroke="#000" stroke-width="3"/>
<line x1="1333" y1="1195.5" x2="1346" y2="1195.5" stroke="#000" stroke-width="3"/>
<line x1="2380" y1="1195.5" x2="2367" y2="1195.5" stroke="#000" stroke-width="3"/>
<line x1="1333" y1="1096" x2="1353.5" y2="1096" stroke="#000" stroke-width="3"/>
<line x1="2380" y1="1096" x2="2359.5" y2="1096" stroke="#000" stroke-width="3"/>
<text transform="translate(215.7 167.5) scale(0.93 1)" class="sk" font-size="56.2" text-anchor="middle">0</text>
<text transform="translate(215.7 1857) scale(0.93 1)" class="sk" font-size="56.2" text-anchor="middle">0</text>
<text transform="translate(390.4 167.5) scale(0.93 1)" class="sk" font-size="56.2" text-anchor="middle">5</text>
<text transform="translate(390.4 1857) scale(0.93 1)" class="sk" font-size="56.2" text-anchor="middle">5</text>
<text transform="translate(565.2 167.5) scale(0.93 1)" class="sk" font-size="56.2" text-anchor="middle">10</text>
<text transform="translate(565.2 1857) scale(0.93 1)" class="sk" font-size="56.2" text-anchor="middle">10</text>
<text transform="translate(740 167.5) scale(0.93 1)" class="sk" font-size="56.2" text-anchor="middle">15</text>
<text transform="translate(740 1857) scale(0.93 1)" class="sk" font-size="56.2" text-anchor="middle">15</text>
<text transform="translate(914.7 167.5) scale(0.93 1)" class="sk" font-size="56.2" text-anchor="middle">20</text>
<text transform="translate(914.7 1857) scale(0.93 1)" class="sk" font-size="56.2" text-anchor="middle">20</text>
<text transform="translate(1089.5 167.5) scale(0.93 1)" class="sk" font-size="56.2" text-anchor="middle">25</text>
<text transform="translate(1089.5 1857) scale(0.93 1)" class="sk" font-size="56.2" text-anchor="middle">25</text>
<text transform="translate(1264.2 167.5) scale(0.93 1)" class="sk" font-size="56.2" text-anchor="middle">30</text>
<text transform="translate(1264.2 1857) scale(0.93 1)" class="sk" font-size="56.2" text-anchor="middle">30</text>
<text transform="translate(1332.5 167.5) scale(0.93 1)" class="sk" font-size="56.2" text-anchor="middle">0</text>
<text transform="translate(1332.5 1857) scale(0.93 1)" class="sk" font-size="56.2" text-anchor="middle">0</text>
<text transform="translate(1507.2 167.5) scale(0.93 1)" class="sk" font-size="56.2" text-anchor="middle">5</text>
<text transform="translate(1507.2 1857) scale(0.93 1)" class="sk" font-size="56.2" text-anchor="middle">5</text>
<text transform="translate(1681.8 167.5) scale(0.93 1)" class="sk" font-size="56.2" text-anchor="middle">10</text>
<text transform="translate(1681.8 1857) scale(0.93 1)" class="sk" font-size="56.2" text-anchor="middle">10</text>
<text transform="translate(1856.5 167.5) scale(0.93 1)" class="sk" font-size="56.2" text-anchor="middle">15</text>
<text transform="translate(1856.5 1857) scale(0.93 1)" class="sk" font-size="56.2" text-anchor="middle">15</text>
<text transform="translate(2031.1 167.5) scale(0.93 1)" class="sk" font-size="56.2" text-anchor="middle">20</text>
<text transform="translate(2031.1 1857) scale(0.93 1)" class="sk" font-size="56.2" text-anchor="middle">20</text>
<text transform="translate(2205.8 167.5) scale(0.93 1)" class="sk" font-size="56.2" text-anchor="middle">25</text>
<text transform="translate(2205.8 1857) scale(0.93 1)" class="sk" font-size="56.2" text-anchor="middle">25</text>
<text transform="translate(2380.4 167.5) scale(0.93 1)" class="sk" font-size="56.2" text-anchor="middle">30</text>
<text transform="translate(2380.4 1857) scale(0.93 1)" class="sk" font-size="56.2" text-anchor="middle">30</text>
<text transform="translate(194 272.1) scale(0.93 1)" class="sk" font-size="56.2" text-anchor="end">800</text>
<text transform="translate(194 466.2) scale(0.93 1)" class="sk" font-size="56.2" text-anchor="end">750</text>
<text transform="translate(194 660.3) scale(0.93 1)" class="sk" font-size="56.2" text-anchor="end">700</text>
<text transform="translate(194 854.4) scale(0.93 1)" class="sk" font-size="56.2" text-anchor="end">650</text>
<text transform="translate(194.5 1110) scale(0.93 1)" class="sk" font-size="56.2" text-anchor="end">6</text>
<text transform="translate(194.5 1309) scale(0.93 1)" class="sk" font-size="56.2" text-anchor="end">4</text>
<text transform="translate(194.5 1508) scale(0.93 1)" class="sk" font-size="56.2" text-anchor="end">2</text>
<text transform="translate(194.5 1707) scale(0.93 1)" class="sk" font-size="56.2" text-anchor="end">0</text>
<text x="691" y="76" class="se" font-size="70" text-anchor="start" >L</text>
<text transform="translate(730.7 76) scale(0.87 1)" class="se" font-size="70">B</text>
<text x="1801" y="76" class="se" font-size="70" text-anchor="start" >L</text>
<text x="1843.3" y="76" class="se" font-size="70" text-anchor="start" >D</text>
<text transform="translate(740.5 1950)" class="sk" font-size="57.5" text-anchor="middle">Incidence angle (Deg)</text>
<text transform="translate(1857 1950)" class="sk" font-size="57.5" text-anchor="middle">Incidence angle (Deg)</text>
<text transform="translate(66 582) rotate(-90)" class="sk" font-size="57.5" text-anchor="middle">Wavelength (nm) (LB)</text>
<text transform="translate(78 1399) rotate(-90)" class="sk" font-size="57.5" text-anchor="middle">Maximum value (deg) (LB)</text>
<text transform="translate(399 261.5) scale(0.93 1)" class="sr" font-size="53.7" text-anchor="start">CW</text>
<text transform="translate(399 320.5) scale(0.93 1)" class="sr" font-size="53.7" text-anchor="start">CCW</text>
<text transform="translate(1515 264.5) scale(0.93 1)" class="sr" font-size="53.7" text-anchor="start">CW</text>
<text transform="translate(1515 324.5) scale(0.93 1)" class="sr" font-size="53.7" text-anchor="start">CCW</text>
<text transform="translate(399 1066) scale(0.93 1)" class="sr" font-size="53.7" text-anchor="start">CW</text>
<text transform="translate(399 1125.5) scale(0.93 1)" class="sr" font-size="53.7" text-anchor="start">CCW</text>
<text transform="translate(1515 1065.5) scale(0.93 1)" class="sr" font-size="53.7" text-anchor="start">CW</text>
<text transform="translate(1515 1125.3) scale(0.93 1)" class="sr" font-size="53.7" text-anchor="start">CCW</text>
</svg></body></html>
